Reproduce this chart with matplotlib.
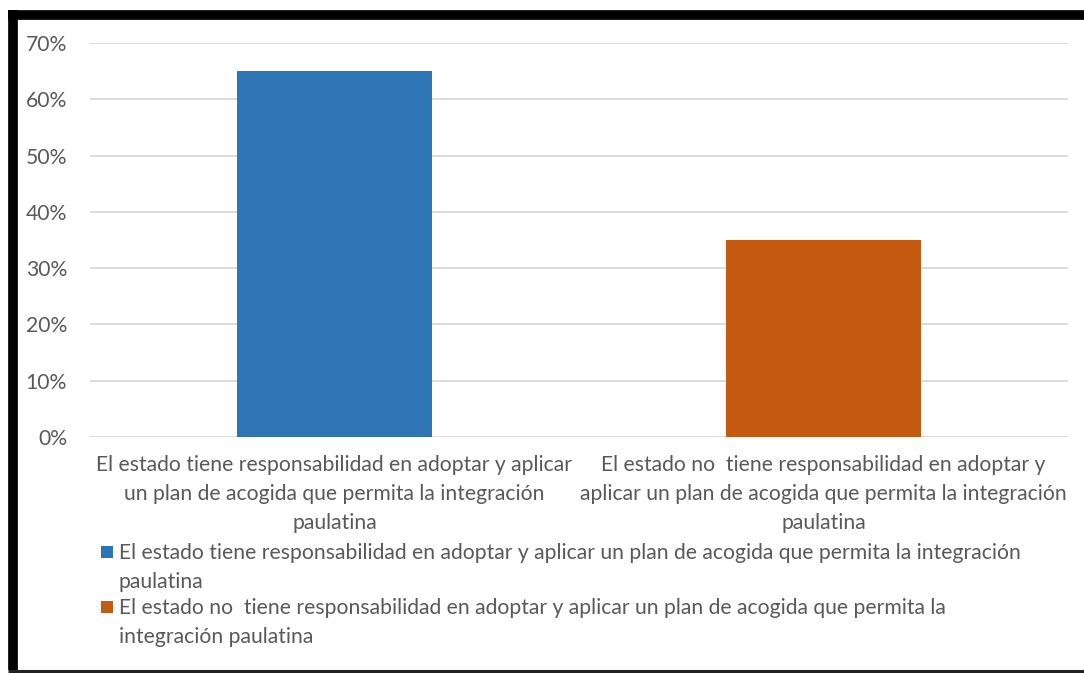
import matplotlib
matplotlib.use("Agg")
import matplotlib.pyplot as plt
from matplotlib.patches import Rectangle
from matplotlib.lines import Line2D

categories = [
    "El estado tiene responsabilidad en adoptar y aplicar\nun plan de acogida que permita la integración\npaulatina",
    "El estado no  tiene responsabilidad en adoptar y\naplicar un plan de acogida que permita la integración\npaulatina",
]
legend_labels = [
    "El estado tiene responsabilidad en adoptar y aplicar un plan de acogida que permita la integración\npaulatina",
    "El estado no  tiene responsabilidad en adoptar y aplicar un plan de acogida que permita la\nintegración paulatina",
]
values = [0.65, 0.35]
colors = ["#2E75B6", "#C55A11"]
yticks = [0, 0.1, 0.2, 0.3, 0.4, 0.5, 0.6, 0.7]
ytick_labels = ["0%", "10%", "20%", "30%", "40%", "50%", "60%", "70%"]

plt.rcParams['font.family'] = ['Lato', 'DejaVu Sans']
TXT = "#595959"
FS = 15.2
W, H = 1084, 673
fig = plt.figure(figsize=(W / 100, H / 100), dpi=100)

# plot area in pixels: x 90..1068, y 43..437
ax = fig.add_axes([90 / W, 1 - 437 / H, (1068 - 90) / W, (437 - 43) / H])
x = list(range(len(categories)))
ax.bar(x, values, width=0.40, color=colors, zorder=3)
ax.set_xlim(-0.5, 1.5)
ax.set_ylim(0, 0.7)
ax.set_yticks(yticks)
ax.set_yticklabels(ytick_labels, fontsize=FS, color=TXT)
ax.set_xticks(x)
ax.set_xticklabels(categories, fontsize=FS, color=TXT, linespacing=1.55)
ax.tick_params(axis='x', length=0, pad=13)
ax.tick_params(axis='y', length=0, pad=16.5)
for s in ax.spines.values():
    s.set_visible(False)
ax.grid(axis='y', color="#D9D9D9", linewidth=1.3, zorder=0)

# legend (handle aligned with the first text line, as in the original)
item_top = [546, 601]
for top, lab, col in zip(item_top, legend_labels, colors):
    fig.add_artist(Rectangle((101 / W, 1 - (top + 12) / H), 12 / W, 12 / H,
                             facecolor=col, edgecolor='none', transform=fig.transFigure))
    fig.text(119 / W, 1 - (top - 3) / H, lab, fontsize=FS, color=TXT,
             ha='left', va='top', linespacing=1.55)

# frame
fig.add_artist(Line2D([12.5 / W, 12.5 / W], [1 - 670 / H, 1 - 10 / H], color="black", linewidth=7, solid_capstyle='butt'))
fig.add_artist(Line2D([8 / W, 1.0], [1 - 14.5 / H, 1 - 14.5 / H], color="black", linewidth=7, solid_capstyle='butt'))
fig.add_artist(Line2D([8 / W, 1.0], [1 - 670.5 / H, 1 - 670.5 / H], color="#222222", linewidth=2.2, solid_capstyle='butt'))

fig.savefig("out.png", dpi=100)
